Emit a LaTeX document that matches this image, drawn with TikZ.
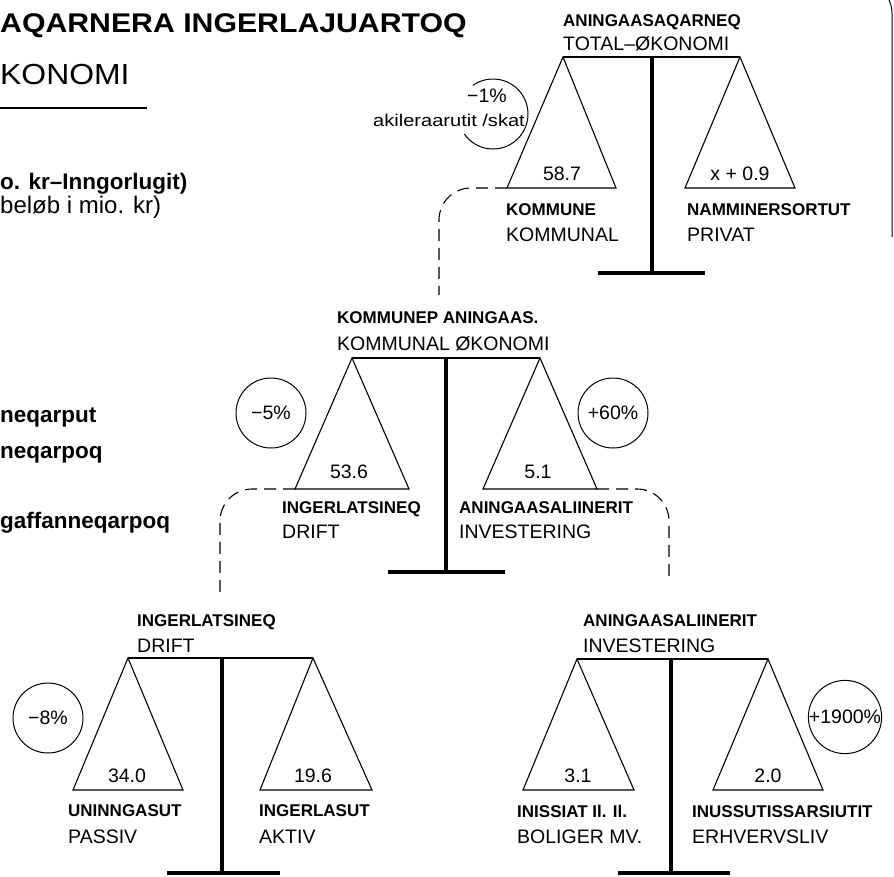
\documentclass[tikz,border=0pt]{standalone}
\usepackage{fontspec}
\setmainfont{Liberation Sans}
\newfontfamily\widefont[FakeStretch=1.12]{Liberation Sans}
\newfontfamily\widerfont[FakeStretch=1.1]{Liberation Sans}
\newfontfamily\taxfont[FakeStretch=1.18]{Liberation Sans}
\begin{document}
\begin{tikzpicture}[x=1pt,y=-1pt,
  lbl/.style={font=\bfseries\fontsize{17}{19}\selectfont, anchor=base west, inner sep=0pt},
  sub/.style={font=\fontsize{19.5}{22}\selectfont, anchor=base west, inner sep=0pt},
  num/.style={font=\fontsize{19.5}{22}\selectfont, anchor=base, inner sep=0pt},
  side/.style={font=\bfseries\fontsize{22.5}{26}\selectfont, anchor=base west, inner sep=0pt},
  sidereg/.style={font=\fontsize{24}{28}\selectfont, anchor=base west, inner sep=0pt},
  pan/.style={draw, line width=1.1pt, line join=miter},
  beam/.style={line width=1.5pt},
  pole/.style={line width=3.6pt},
  conn/.style={line width=1.1pt, dash pattern=on 12pt off 7pt, rounded corners=32pt},
  pct/.style={circle, draw, line width=1pt, minimum size=70pt, inner sep=0pt, font=\fontsize{19.5}{22}\selectfont}
]
\useasboundingbox (0,0) rectangle (894,876);

% ---- title and legend ----
\node[font=\widefont\bfseries\fontsize{27}{32}\selectfont, anchor=base west, inner sep=0pt] (title) at (0,32) {AQARNERA INGERLAJUARTOQ};
\node[font=\widerfont\fontsize{29}{33}\selectfont, anchor=base west, inner sep=0pt] (subtitle) at (0,84) {KONOMI};
\coordinate (ulA) at (0,108);
\coordinate (ulB) at (147,108);
\draw[line width=1.3pt] (ulA) -- (ulB);
\node[side] (unitg) at (0,189) {o. kr–Inngorlugit)};
\node[sidereg] (unitd) at (0,213) {beløb i mio. kr)};
\node[side] (leg1) at (0,422) {neqarput};
\node[side] (leg2) at (0,458) {neqarpoq};
\node[side] (leg3) at (0,528) {gaffanneqarpoq};

% right page edge
\coordinate (edgeB) at (892,237);
\coordinate (edgeT) at (892,14);
\coordinate (edgeC) at (888,-2);
\draw[line width=1pt] (edgeB) -- (edgeT) .. controls (892,6) and (890,2) .. (edgeC);

% ================= Scale A : total economy =================
\coordinate (Abl) at (563,57);
\coordinate (Abr) at (740,57);
\coordinate (Apt) at (652,57);
\coordinate (Apb) at (652,273);
\coordinate (Abase1) at (598,273);
\coordinate (Abase2) at (705,273);
\coordinate (AL1) at (507,188);
\coordinate (AL2) at (616,188);
\coordinate (AR1) at (685,188);
\coordinate (AR2) at (795,188);
\draw[beam] (Abl) -- (Abr);
\draw[pole] (Apt) -- (Apb);
\draw[pole] (Abase1) -- (Abase2);
\draw[pan] (Abl) -- (AL2) -- (AL1) -- cycle;
\draw[pan] (Abr) -- (AR2) -- (AR1) -- cycle;
\node[lbl] (Ah1) at (563,26) {ANINGAASAQARNEQ};
\node[sub] (Ah2) at (563,50) {TOTAL–ØKONOMI};
\node[num] (An1) at (562,180) {58.7};
\node[num] (An2) at (740,180) {x + 0.9};
\node[lbl] (Al1) at (506,215) {KOMMUNE};
\node[sub] (Al2) at (506,241) {KOMMUNAL};
\node[lbl] (Ar1) at (687,215) {NAMMINERSORTUT};
\node[sub] (Ar2) at (687,241) {PRIVAT};
% -1% circle with tax text
\coordinate (c1) at (493,114);
\draw[line width=1pt] (c1) ++(145:35) arc[start angle=145, end angle=-125, radius=35];
\node[num] (c1t) at (487,102) {−1\%};
\node[font=\taxfont\fontsize{17}{19}\selectfont, anchor=base, inner sep=0pt] (c1s) at (449,126) {akileraarutit /skat};

% ================= Scale B : municipal economy =================
\coordinate (Bbl) at (352,358);
\coordinate (Bbr) at (540,358);
\coordinate (Bpt) at (446,358);
\coordinate (Bpb) at (446,572);
\coordinate (Bbase1) at (388,572);
\coordinate (Bbase2) at (505,572);
\coordinate (BL1) at (295,489);
\coordinate (BL2) at (409,489);
\coordinate (BR1) at (483,489);
\coordinate (BR2) at (597,489);
\draw[beam] (Bbl) -- (Bbr);
\draw[pole] (Bpt) -- (Bpb);
\draw[pole] (Bbase1) -- (Bbase2);
\draw[pan] (Bbl) -- (BL2) -- (BL1) -- cycle;
\draw[pan] (Bbr) -- (BR2) -- (BR1) -- cycle;
\node[lbl] (Bh1) at (337,323) {KOMMUNEP ANINGAAS.};
\node[sub] (Bh2) at (337,350) {KOMMUNAL ØKONOMI};
\node[num] (Bn1) at (349,478) {53.6};
\node[num] (Bn2) at (538,478) {5.1};
\node[lbl] (Bl1) at (282,513) {INGERLATSINEQ};
\node[sub] (Bl2) at (282,538) {DRIFT};
\node[lbl] (Br1) at (459,513) {ANINGAASALIINERIT};
\node[sub] (Br2) at (459,538) {INVESTERING};
\node[pct] (p5) at (271,413) {−5\%};
\node[pct] (p60) at (613,413) {+60\%};

% ================= Scale C : drift =================
\coordinate (Cbl) at (128,658);
\coordinate (Cbr) at (313,658);
\coordinate (Cpt) at (222,658);
\coordinate (Cpb) at (222,873);
\coordinate (Cbase1) at (167,873);
\coordinate (Cbase2) at (280,873);
\coordinate (CL1) at (73,790);
\coordinate (CL2) at (183,790);
\coordinate (CR1) at (260,790);
\coordinate (CR2) at (372,790);
\draw[beam] (Cbl) -- (Cbr);
\draw[pole] (Cpt) -- (Cpb);
\draw[pole] (Cbase1) -- (Cbase2);
\draw[pan] (Cbl) -- (CL2) -- (CL1) -- cycle;
\draw[pan] (Cbr) -- (CR2) -- (CR1) -- cycle;
\node[lbl] (Ch1) at (137,626) {INGERLATSINEQ};
\node[sub] (Ch2) at (137,652) {DRIFT};
\node[num] (Cn1) at (127,782) {34.0};
\node[num] (Cn2) at (313,782) {19.6};
\node[lbl] (Cl1) at (68,816) {UNINNGASUT};
\node[sub] (Cl2) at (68,843) {PASSIV};
\node[lbl] (Cr1) at (259,816) {INGERLASUT};
\node[sub] (Cr2) at (259,843) {AKTIV};
\node[pct] (p8) at (48,718) {−8\%};

% ================= Scale D : investering =================
\coordinate (Dbl) at (577,659);
\coordinate (Dbr) at (768,659);
\coordinate (Dpt) at (671,659);
\coordinate (Dpb) at (671,873);
\coordinate (Dbase1) at (618,873);
\coordinate (Dbase2) at (730,873);
\coordinate (DL1) at (523,790);
\coordinate (DL2) at (634,790);
\coordinate (DR1) at (713,790);
\coordinate (DR2) at (823,790);
\draw[beam] (Dbl) -- (Dbr);
\draw[pole] (Dpt) -- (Dpb);
\draw[pole] (Dbase1) -- (Dbase2);
\draw[pan] (Dbl) -- (DL2) -- (DL1) -- cycle;
\draw[pan] (Dbr) -- (DR2) -- (DR1) -- cycle;
\node[lbl] (Dh1) at (583,626) {ANINGAASALIINERIT};
\node[sub] (Dh2) at (583,652) {INVESTERING};
\node[num] (Dn1) at (578,782) {3.1};
\node[num] (Dn2) at (768,782) {2.0};
\node[lbl] (Dl1) at (517,817) {INISSIAT Il. Il.};
\node[sub] (Dl2) at (517,843) {BOLIGER MV.};
\node[lbl] (Dr1) at (692,817) {INUSSUTISSARSIUTIT};
\node[sub] (Dr2) at (692,843) {ERHVERVSLIV};
\node[pct] (p1900) at (845,717) {+1900\%};

% ================= dashed links =================
\coordinate (AB) at (439,295);
\coordinate (BC) at (220,592);
\coordinate (BD) at (669,577);
\draw[conn] (AL1) -- (439,188) -- (AB);
\draw[conn] (BL1) -- (220,489) -- (BC);
\draw[conn] (BR2) -- (669,489) -- (BD);
\end{tikzpicture}
\end{document}
